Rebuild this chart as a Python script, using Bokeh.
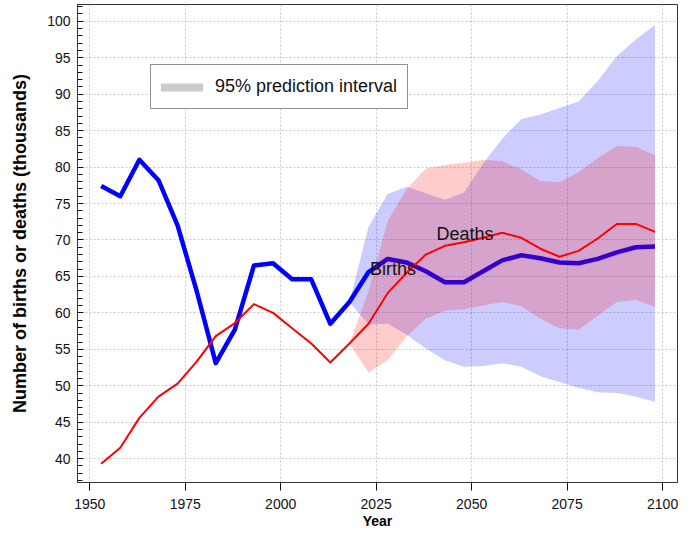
import numpy as np
from bokeh.plotting import figure
from bokeh.models import Range1d, FixedTicker, Legend, LegendItem
from bokeh.core.properties import value
from bokeh.embed import file_html
from bokeh.resources import INLINE

# ---- data ----
years = [1953, 1958, 1963, 1968, 1973, 1978, 1983, 1988, 1993, 1998,
         2003, 2008, 2013, 2018, 2023, 2028, 2033, 2038, 2043, 2048,
         2053, 2058, 2063, 2068, 2073, 2078, 2083, 2088, 2093, 2098]
births = [77.4, 76.0, 81.0, 78.2, 72.0, 63.0, 53.1, 57.7, 66.5, 66.8,
          64.6, 64.6, 58.5, 61.5, 65.6, 67.4, 66.9, 65.7, 64.2, 64.2,
          65.7, 67.2, 67.9, 67.5, 66.9, 66.8, 67.4, 68.3, 69.0, 69.1]
deaths = [39.3, 41.5, 45.6, 48.5, 50.3, 53.3, 56.8, 58.6, 61.2, 60.0,
          57.9, 55.8, 53.2, 55.8, 58.5, 62.7, 65.5, 68.0, 69.2, 69.7,
          70.3, 71.0, 70.3, 68.8, 67.7, 68.5, 70.2, 72.2, 72.2, 71.1]

pi_years = [2018, 2023, 2028, 2033, 2038, 2043, 2048, 2053, 2058,
            2063, 2068, 2073, 2078, 2083, 2088, 2093, 2098]
births_lo = [61.5, 58.4, 58.5, 57.0, 55.1, 53.5, 52.6, 52.7, 53.1,
             52.6, 51.3, 50.5, 49.7, 49.1, 49.0, 48.5, 47.8]
births_hi = [61.5, 71.8, 76.3, 77.3, 76.4, 75.5, 76.5, 80.5, 83.9,
             86.6, 87.2, 88.1, 89.0, 91.8, 95.2, 97.5, 99.5]
deaths_lo = [55.8, 51.8, 53.5, 56.8, 59.2, 60.3, 60.5, 61.0, 61.5,
             60.9, 59.2, 57.9, 57.7, 59.6, 61.5, 61.8, 60.8]
deaths_hi = [55.8, 63.0, 72.6, 77.0, 79.8, 80.3, 80.6, 81.0, 80.8,
             79.7, 78.1, 77.9, 79.3, 81.2, 82.9, 82.8, 81.6]

label_text = ["Deaths", "Births"]
label_x = [2040.8, 2023.4]
label_y = [70.8, 66.0]

x_ticks = [1950, 1975, 2000, 2025, 2050, 2075, 2100]
y_ticks = [40, 45, 50, 55, 60, 65, 70, 75, 80, 85, 90, 95, 100]
y_minor = list(range(37, 103))
legend_label = "95% prediction interval"

FONT = "Liberation Sans"

p = figure(width=680, height=534, output_backend="svg", toolbar_location=None,
           x_range=Range1d(1946.8, 2103.9), y_range=Range1d(36.73, 102.3),
           min_border_left=77, min_border_right=3, min_border_top=4,
           min_border_bottom=52)

p.background_fill_color = "white"
p.border_fill_color = "white"
p.outline_line_color = "#333333"
p.outline_line_width = 1

# axes
p.xaxis.ticker = FixedTicker(ticks=x_ticks)
p.yaxis.ticker = FixedTicker(ticks=y_ticks, minor_ticks=y_minor)
p.xgrid.ticker = FixedTicker(ticks=x_ticks)
p.ygrid.ticker = FixedTicker(ticks=y_ticks)

for ax in (p.xaxis[0], p.yaxis[0]):
    ax.axis_line_color = "#333333"
    ax.major_tick_line_color = "#111111"
    ax.minor_tick_line_color = "#111111"
    ax.major_label_text_font = FONT
    ax.major_label_text_font_size = "14px"
    ax.major_label_text_color = "#111111"
    ax.axis_label_text_font = FONT
    ax.axis_label_text_font_style = "bold"
    ax.axis_label_text_color = "black"

p.xaxis.axis_label = "Year"
p.xaxis.axis_label_text_font_size = "14px"
p.xaxis.major_tick_out = 8
p.xaxis.major_tick_in = 0
p.xaxis.minor_tick_line_color = None
p.xaxis.major_label_standoff = 8
p.xaxis.axis_label_standoff = 1

p.yaxis.axis_label = "Number of births or deaths (thousands)"
p.yaxis.axis_label_text_font_size = "18px"
p.yaxis.major_tick_in = 6
p.yaxis.major_tick_out = 0
p.yaxis.minor_tick_in = 5
p.yaxis.minor_tick_out = 0
p.yaxis.major_label_standoff = 7
p.yaxis.axis_label_standoff = 14

for g in (p.xgrid[0], p.ygrid[0]):
    g.grid_line_color = "#c8c8c8"
    g.grid_line_dash = "2 2"
    g.grid_line_width = 1

# bands and lines
p.varea(x=pi_years, y1=births_lo, y2=births_hi, fill_color="#0000ff", fill_alpha=0.2)
p.line(x=years, y=births, line_color="#0000ff", line_width=4.5, line_join="round")
p.varea(x=pi_years, y1=deaths_lo, y2=deaths_hi, fill_color="#ff0000", fill_alpha=0.2)
p.line(x=years, y=deaths, line_color="#ff0000", line_width=2, line_join="round")

p.text(x=label_x, y=label_y, text=label_text, text_font=value(FONT),
       text_font_size="18px", text_baseline="middle", text_align="left",
       text_color="#111111")

# legend
leg_r = p.line(x=[np.nan], y=[np.nan], line_color="#cccccc", line_width=8, line_cap="round")
legend = Legend(items=[LegendItem(label=legend_label, renderers=[leg_r])],
                location=(73, 373), margin=0, padding=10,
                glyph_width=42, glyph_height=20, label_height=23, label_standoff=12,
                label_text_font=FONT, label_text_font_size="18px",
                label_text_color="#111111",
                border_line_color="#222222", border_line_width=1.5,
                background_fill_color="white", background_fill_alpha=1)
p.add_layout(legend)

open("out.html", "w").write(file_html(p, INLINE))
